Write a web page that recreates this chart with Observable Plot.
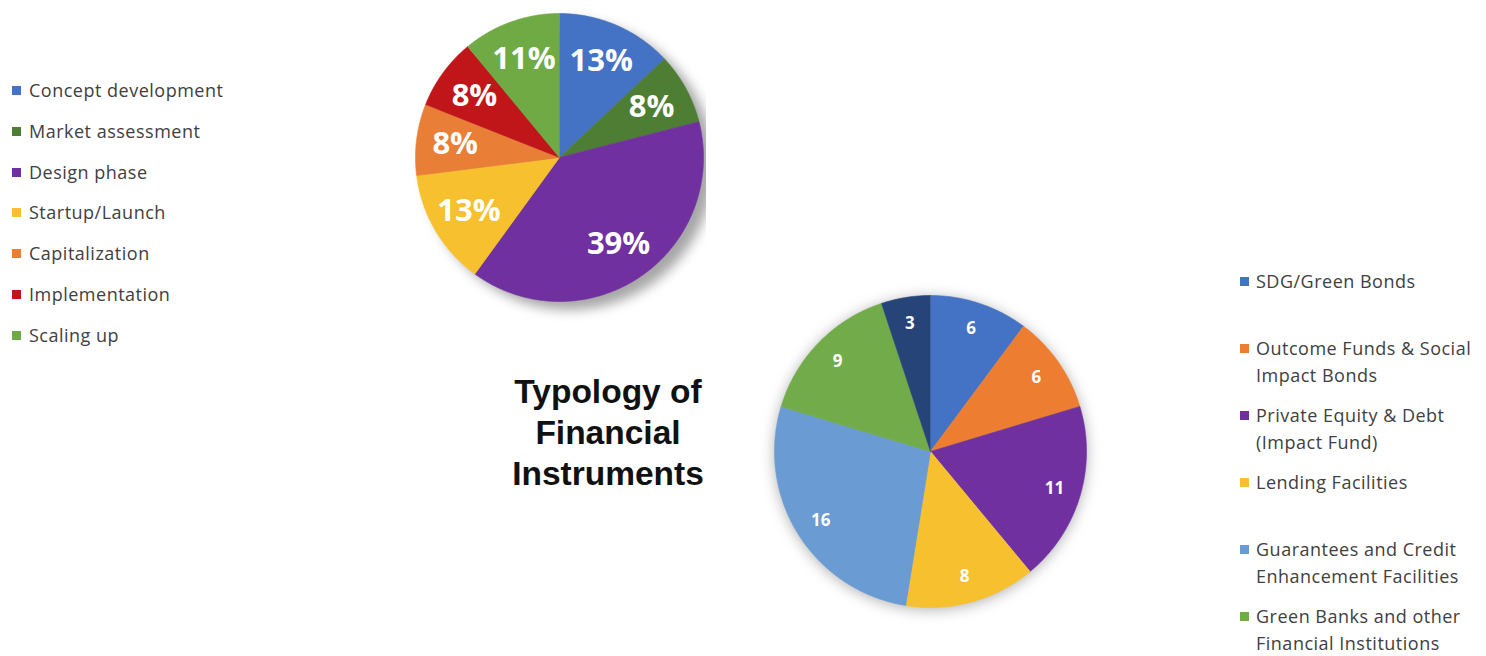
<!DOCTYPE html>
<html><head><meta charset="utf-8">
<script src="https://cdn.jsdelivr.net/npm/d3@7"></script>
<script src="https://cdn.jsdelivr.net/npm/@observablehq/plot@0.6"></script>
<style>
body{margin:0;background:#fff;}
#root{position:relative;width:1486px;height:656px;overflow:hidden;font-family:"Open Sans",sans-serif;background:#fff;}
.item{position:absolute;color:#404040;font-size:18px;letter-spacing:0.5px;line-height:27px;white-space:normal;}
.sw{position:absolute;width:9px;height:9px;}
.title{position:absolute;left:470px;top:371px;width:276px;text-align:center;font-family:"Liberation Sans",Arial,sans-serif;font-weight:bold;font-size:33.5px;line-height:41px;color:#111;}
.clip{position:absolute;overflow:hidden;}
svg{max-width:none !important;}
</style></head><body><div id="root"></div>
<script>
// Chart 1: stage of development (percent)
const stageNames = ["Concept development","Market assessment","Design phase","Startup/Launch","Capitalization","Implementation","Scaling up"];
const stageValues = [13, 8, 39, 13, 8, 8, 11];
const stageColors = ["#4472C4","#4E7D34","#7030A0","#F6C02F","#E97E36","#C0161A","#6FAA45"];

// Chart 2: typology of financial instruments (counts)
const instrumentNames = ["SDG/Green Bonds","Outcome Funds & Social Impact Bonds","Private Equity & Debt (Impact Fund)","Lending Facilities","Guarantees and Credit Enhancement Facilities","Green Banks and other Financial Institutions","Other"];
const instrumentValues = [6, 6, 11, 8, 16, 9, 3];
const instrumentColors = ["#4472C4","#ED7D31","#7030A0","#F6C02F","#6A9BD3","#72AC4A","#264478"];
const instrumentLegendCount = 6;

const titleText = ["Typology of","Financial","Instruments"];

function pieChart(names, values, colors, opt) {
  const arcs = d3.pie().sort(null).value(d => d)(values);
  const pts = [];
  arcs.forEach((a, i) => {
    pts.push({name: names[i], x: 0, y: 0});
    const n = Math.max(2, Math.ceil((a.endAngle - a.startAngle) / 0.01));
    for (let k = 0; k <= n; k++) {
      const t = a.startAngle + (a.endAngle - a.startAngle) * k / n;
      pts.push({name: names[i], x: Math.sin(t), y: Math.cos(t)});
    }
  });
  const labels = arcs.map((a, i) => {
    const m = (a.startAngle + a.endAngle) / 2;
    return {x: opt.labelR * Math.sin(m), y: opt.labelR * Math.cos(m), text: opt.fmt(values[i])};
  });
  const svg = Plot.plot({
    width: 2 * opt.R + 2 * opt.pad, height: 2 * opt.R + 2 * opt.pad, margin: opt.pad,
    x: {domain: [-1, 1], axis: null}, y: {domain: [-1, 1], axis: null},
    color: {domain: names, range: colors},
    style: {background: "transparent", overflow: "visible", maxWidth: "none"},
    marks: [
      Plot.line(pts, {x: "x", y: "y", z: "name", fill: "name", stroke: "name", strokeWidth: 0.6}),
      Plot.text(labels, {x: "x", y: "y", text: "text", fill: "white", fontSize: opt.fontSize, fontWeight: "bold", fontFamily: "Open Sans"})
    ]
  });
  svg.style.maxWidth = "none";
  const g = svg.querySelector('g[aria-label="line"]');
  if (g) g.style.filter = opt.shadow;
  return svg;
}

const root = document.getElementById("root");

// Legend 1
stageNames.forEach((nm, i) => {
  const y = 91 + i * 40.8;
  const sw = document.createElement("div");
  sw.className = "sw"; sw.style.left = "12px"; sw.style.top = (y - 5) + "px"; sw.style.background = stageColors[i];
  root.appendChild(sw);
  const t = document.createElement("div");
  t.className = "item"; t.style.left = "29px"; t.style.top = (y - 14) + "px"; t.textContent = nm;
  root.appendChild(t);
});

// Pie 1
const clip1 = document.createElement("div");
clip1.className = "clip";
clip1.style.left = "395px"; clip1.style.top = "-7px"; clip1.style.width = "311px"; clip1.style.height = "330px";
clip1.appendChild(pieChart(stageNames, stageValues, stageColors, {R: 144, pad: 20, labelR: 0.73, fontSize: 31, fmt: v => v + "%", shadow: "drop-shadow(10px 8px 6px rgba(0,0,0,0.35))"}));
root.appendChild(clip1);

// Title
const title = document.createElement("div");
title.className = "title";
title.innerHTML = titleText.join("<br>");
root.appendChild(title);

// Pie 2
const wrap2 = document.createElement("div");
wrap2.style.position = "absolute"; wrap2.style.left = "754px"; wrap2.style.top = "275px";
wrap2.appendChild(pieChart(instrumentNames, instrumentValues, instrumentColors, {R: 156, pad: 20, labelR: 0.83, fontSize: 17, fmt: v => String(v), shadow: "drop-shadow(0px 2px 7px rgba(0,0,0,0.3))"}));
root.appendChild(wrap2);

// Legend 2
instrumentNames.slice(0, instrumentLegendCount).forEach((nm, i) => {
  const y = 282 + i * 67;
  const sw = document.createElement("div");
  sw.className = "sw"; sw.style.left = "1240px"; sw.style.top = (y - 5) + "px"; sw.style.background = instrumentColors[i];
  root.appendChild(sw);
  const t = document.createElement("div");
  t.className = "item"; t.style.left = "1256px"; t.style.top = (y - 14) + "px"; t.style.width = "228px"; t.textContent = nm;
  root.appendChild(t);
});
</script>
</body></html>
